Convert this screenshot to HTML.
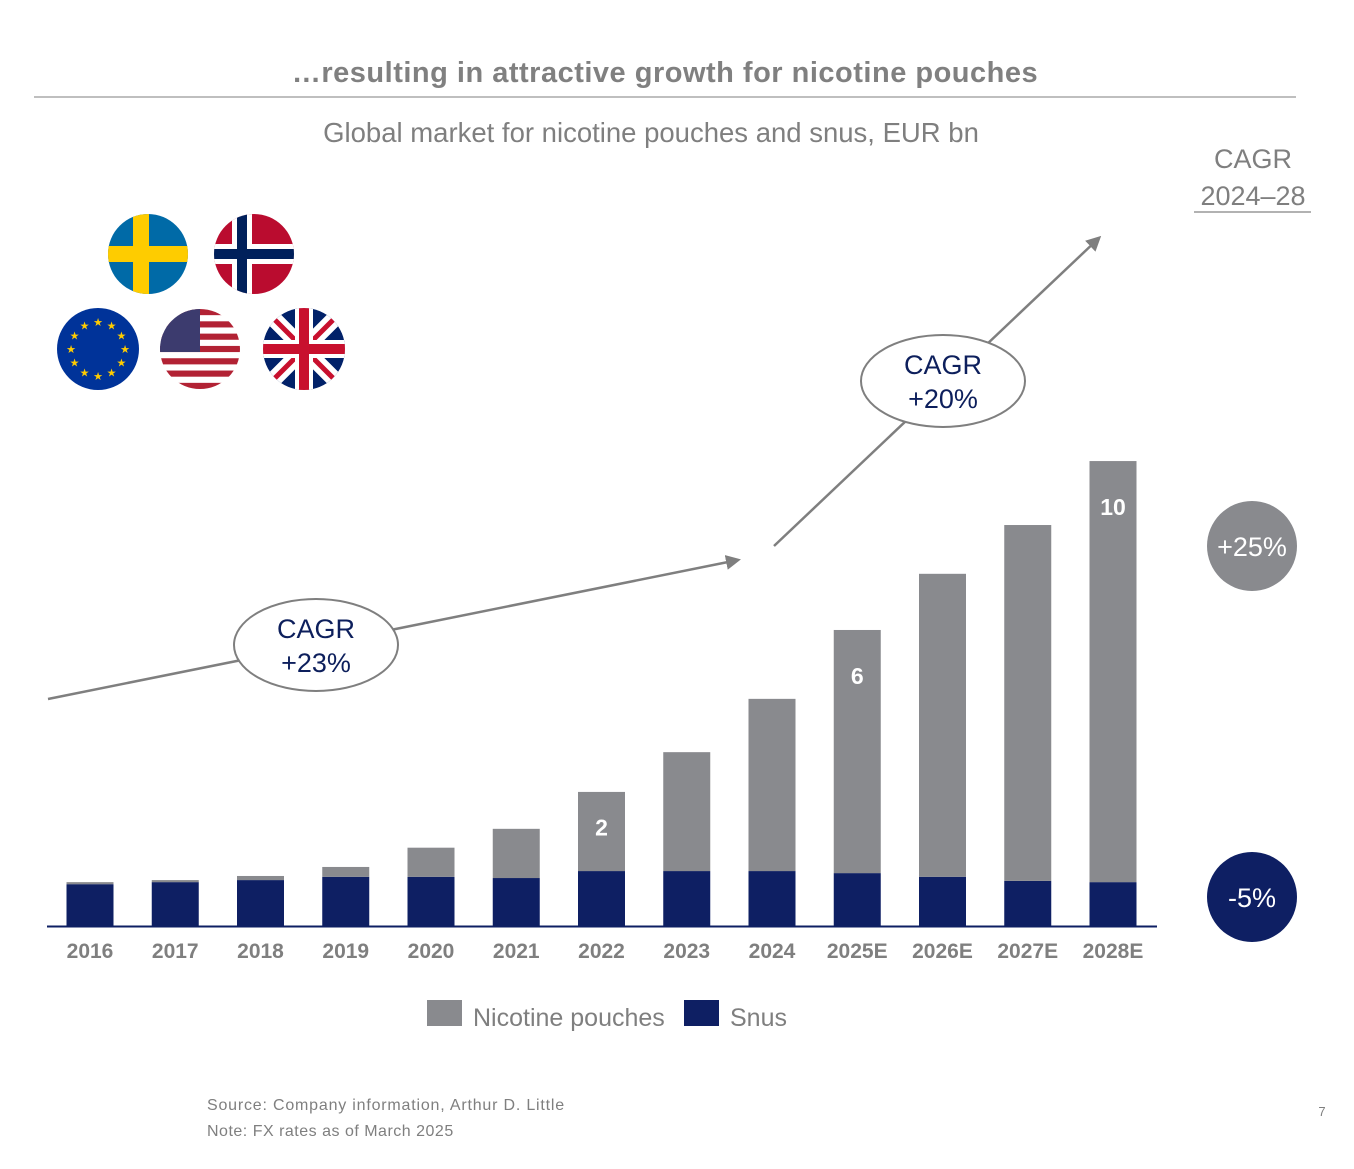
<!DOCTYPE html>
<html><head><meta charset="utf-8"><style>
body{margin:0;width:1354px;height:1164px;background:#fff;font-family:"Liberation Sans",sans-serif;overflow:hidden}
</style></head><body>
<svg id="chart" width="1354" height="1164" xmlns="http://www.w3.org/2000/svg">
<defs>
<clipPath id="c1"><circle cx="148" cy="254" r="40"/></clipPath>
<clipPath id="c2"><circle cx="254" cy="254" r="40"/></clipPath>
<clipPath id="c4"><circle cx="200" cy="349" r="40"/></clipPath>
<clipPath id="c5"><circle cx="304" cy="349" r="41"/></clipPath>
<marker id="ah" viewBox="0 0 10 10" refX="8" refY="5" markerWidth="6" markerHeight="6" orient="auto"><path d="M0,0L10,5L0,10z" fill="#7f7f7f"/></marker>
</defs>
<text x="665" y="82" text-anchor="middle" font-size="29" font-weight="bold" fill="#808080" letter-spacing="0.5">…resulting in attractive growth for nicotine pouches</text>
<line x1="34" y1="97" x2="1296" y2="97" stroke="#aaa" stroke-width="1.5"/>
<text x="651" y="142" text-anchor="middle" font-size="27.5" fill="#7f7f7f">Global market for nicotine pouches and snus, EUR bn</text>
<text x="1253" y="168" text-anchor="middle" font-size="27" fill="#7f7f7f">CAGR</text>
<text x="1253" y="205" text-anchor="middle" font-size="27" fill="#7f7f7f">2024–28</text>
<line x1="1194" y1="212" x2="1311" y2="212" stroke="#999" stroke-width="1.5"/>
<g clip-path="url(#c1)"><rect x="108" y="214" width="80" height="80" fill="#006aa7"/><rect x="108" y="246" width="80" height="16" fill="#fecc00"/><rect x="133" y="214" width="16" height="80" fill="#fecc00"/></g>
<g clip-path="url(#c2)"><rect x="214" y="214" width="80" height="80" fill="#ba0c2f"/><rect x="214" y="244" width="80" height="20" fill="#fff"/><rect x="232" y="214" width="20" height="80" fill="#fff"/><rect x="214" y="249" width="80" height="10" fill="#00205b"/><rect x="237" y="214" width="10" height="80" fill="#00205b"/></g>
<g><circle cx="98" cy="349" r="41" fill="#003399"/>
<g fill="#ffcc00" font-size="11" text-anchor="middle" id="stars"></g></g>
<g clip-path="url(#c4)"><rect x="160" y="309" width="80" height="80" fill="#fff"/>
<g fill="#b22234" id="stripes"></g><rect x="160" y="309" width="40" height="43" fill="#3c3b6e"/></g>
<g clip-path="url(#c5)"><rect x="263" y="308" width="82" height="82" fill="#012169"/>
<path d="M263,308L345,390M345,308L263,390" stroke="#fff" stroke-width="16"/><path d="M263,308L345,390M345,308L263,390" stroke="#c8102e" stroke-width="5"/>
<rect x="263" y="340" width="82" height="18" fill="#fff"/><rect x="295" y="308" width="18" height="82" fill="#fff"/>
<rect x="263" y="344" width="82" height="10" fill="#c8102e"/><rect x="299" y="308" width="10" height="82" fill="#c8102e"/></g>
<line x1="48" y1="699" x2="738" y2="560" stroke="#7f7f7f" stroke-width="2.5" marker-end="url(#ah)"/>
<line x1="774" y1="546" x2="1099" y2="238" stroke="#7f7f7f" stroke-width="2.5" marker-end="url(#ah)"/>
<ellipse cx="316" cy="645" rx="82" ry="46" fill="#fff" stroke="#7f7f7f" stroke-width="2"/>
<text x="316" y="638" text-anchor="middle" font-size="27" fill="#0d1f5c">CAGR</text><text x="316" y="672" text-anchor="middle" font-size="27" fill="#0d1f5c">+23%</text>
<ellipse cx="943" cy="381" rx="82" ry="46" fill="#fff" stroke="#7f7f7f" stroke-width="2"/>
<text x="943" y="374" text-anchor="middle" font-size="27" fill="#0d1f5c">CAGR</text><text x="943" y="408" text-anchor="middle" font-size="27" fill="#0d1f5c">+20%</text>
<circle cx="1252" cy="546" r="45" fill="#898a8e"/>
<text x="1252" y="556" text-anchor="middle" font-size="27" fill="#fff">+25%</text>
<circle cx="1252" cy="897" r="45" fill="#0e1f63"/>
<text x="1252" y="907" text-anchor="middle" font-size="27" fill="#fff">-5%</text>
<g id="bars"></g>
<line x1="47" y1="926.5" x2="1157" y2="926.5" stroke="#0e1f63" stroke-width="2"/>
<rect x="427" y="1000" width="35" height="26" fill="#898a8e"/>
<text x="473" y="1026" font-size="25" fill="#7f7f7f">Nicotine pouches</text>
<rect x="684" y="1000" width="35" height="26" fill="#0e1f63"/>
<text x="730" y="1026" font-size="25" fill="#7f7f7f">Snus</text>
<text x="207" y="1110" font-size="16" fill="#7f7f7f" letter-spacing="0.8">Source: Company information, Arthur D. Little</text>
<text x="207" y="1136" font-size="16" fill="#7f7f7f" letter-spacing="0.5">Note: FX rates as of March 2025</text>
<text x="1322" y="1116" text-anchor="middle" font-size="13" fill="#7f7f7f">7</text>
</svg>
<script>
const categories=["2016","2017","2018","2019","2020","2021","2022","2023","2024","2025E","2026E","2027E","2028E"];
const snus=[1.02,1.07,1.12,1.2,1.2,1.17,1.34,1.34,1.34,1.29,1.2,1.1,1.07];
const pouches=[0.05,0.05,0.1,0.24,0.71,1.2,1.93,2.9,4.2,5.93,7.39,8.68,10.27];
const pouchLabels=["","","","","","","2","","","6","","","10"];
const NS="http://www.w3.org/2000/svg";
const x0=90,step=85.25,bw=47,base=926,k=41;
const xS=i=>x0+i*step, yS=v=>base-v*k;
const g=document.getElementById('bars');
function mk(t,a){const e=document.createElementNS(NS,t);for(const n in a)e.setAttribute(n,a[n]);return e;}
categories.forEach((c,i)=>{
  const cx=xS(i);
  const s=mk('rect',{x:cx-bw/2,y:yS(snus[i]),width:bw,height:base-yS(snus[i]),fill:'#0e1f63'});
  
  
  g.appendChild(s);
  const top=yS(snus[i]+pouches[i]);
  const h=yS(snus[i])-top;
  const p=mk('rect',{x:cx-bw/2,y:top,width:bw,height:h,fill:'#898a8e'});
  
  
  g.appendChild(p);
  if(pouchLabels[i]){const t=mk('text',{x:cx,y:top+Math.min(54,0.45*h+8),'text-anchor':'middle','font-size':23,'font-weight':'bold',fill:'#fff'});t.textContent=pouchLabels[i];
  
  
  g.appendChild(t);}
  const l=mk('text',{x:cx,y:958,'text-anchor':'middle','font-size':21,'font-weight':'bold',fill:'#7f7f7f'});l.textContent=c;
  
  
  g.appendChild(l);
});
const st=document.getElementById('stars');
for(let j=0;j<12;j++){const a=j*Math.PI/6;const t=mk('text',{x:98+27*Math.cos(a),y:353+27*Math.sin(a)});t.textContent='★';st.appendChild(t);}
const sp=document.getElementById('stripes');
for(let j=0;j<13;j+=2){sp.appendChild(mk('rect',{x:160,y:309+j*80/13,width:80,height:80/13}));}
</script>
</body></html>
